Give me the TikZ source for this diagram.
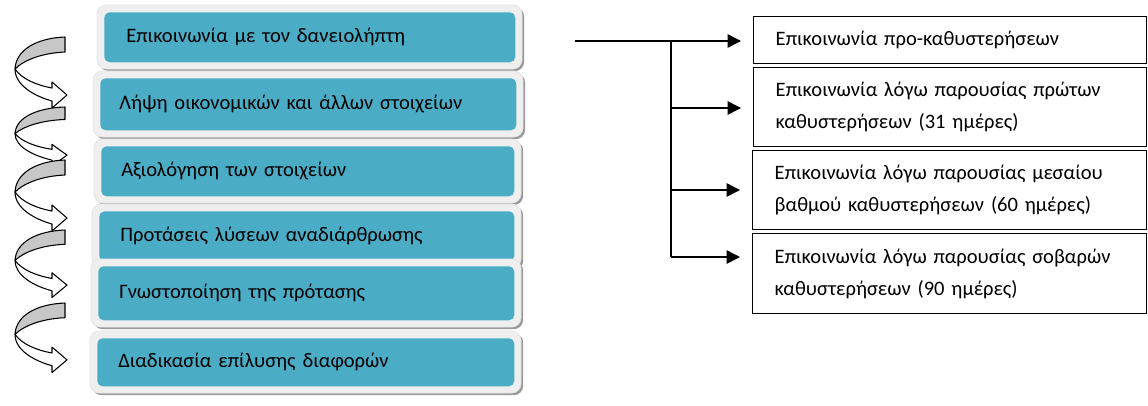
\documentclass[tikz,border=0pt]{standalone}
\usepackage{fontspec}
\setmainfont{Carlito}
\usetikzlibrary{shadows,arrows.meta}
\definecolor{teal1}{HTML}{4BACC6}
\definecolor{frameg}{HTML}{EFEFEF}
\tikzset{
  framestyle/.style={fill=frameg, draw=black!10, line width=0.6pt, rounded corners=7pt,
    drop shadow={shadow xshift=1.6pt, shadow yshift=-1.6pt, fill=black!40, opacity=1}},
  tealbox/.style={fill=teal1, rounded corners=4pt, anchor=north west, align=left,
    font=\fontsize{15.4}{18}\selectfont, inner ysep=0pt},
  rbox/.style={draw=black, line width=1.1pt, anchor=north west, align=left,
    inner xsep=16.5pt, inner ysep=0pt, font=\fontsize{15.4}{24}\selectfont},
  conn/.style={line width=1.1pt},
  arr/.style={line width=1.1pt, -{Triangle[length=10pt,width=10pt]}},
  ribbongray/.style={fill=black!22, draw=black, line width=0.8pt, line join=round},
  ribbonwhite/.style={fill=white, draw=black, line width=0.8pt, line join=round}
}
% #1 name, #2 x1, #3 y1, #4 x2, #5 y2, #6 inset, #7 text
\newcommand\leftstep[7]{%
  \path[framestyle] (#2-7,#3-7) rectangle (#4+7,#5+7);
  \node[tealbox, minimum width={(#4-#2)*0.75pt}, minimum height={(#5-#3)*0.75pt},
        inner xsep={#6*0.75pt}, text width={(#4-#2-2*#6)*0.75pt}] (#1) at (#2,#3) {#7};
}
% #1 y of top, #2 vertical scale
\newcommand\turnarrow[2]{%
  \begin{scope}[shift={(0,#1)}, yscale=#2]
    \path[ribbongray] (65,0) .. controls (38,1) and (16,12) .. (15,32)
      .. controls (24,23) and (42,16) .. (65,15) -- cycle;
    \path[ribbonwhite] (15,32) .. controls (15,48) and (34,59) .. (52,64) -- (52,71) -- (67,58)
      -- (52,45) -- (52,51) .. controls (36,48) and (22,42) .. (15,32) -- cycle;
  \end{scope}
}
\begin{document}
\begin{tikzpicture}[x=0.75pt,y=-0.75pt]
\useasboundingbox (0,0) rectangle (1148,405);
\fill[white] (0,0) rectangle (1148,405);

% left steps
\leftstep{s1}{104}{12}{515}{62}{22}{Επικοινωνία με τον δανειολήπτη}
\leftstep{s2}{100}{78}{516}{130}{19}{Λήψη οικονομικών και άλλων στοιχείων}
\leftstep{s3}{101}{146}{514}{196}{20}{Αξιολόγηση των στοιχείων}
\leftstep{s4}{99}{211}{514}{261}{21}{Προτάσεις λύσεων αναδιάρθρωσης}
\leftstep{s5}{98}{266}{514}{320}{21}{Γνωστοποίηση της πρότασης}
\leftstep{s6}{97}{338}{514}{386}{21}{Διαδικασία επίλυσης διαφορών}

% curved arrows
\turnarrow{37}{1.0}
\turnarrow{107}{0.83}
\turnarrow{160}{1.0}
\turnarrow{230}{0.95}
\turnarrow{303}{0.98}

% right boxes
\node[rbox, minimum width={(1146-753)*0.75pt}, minimum height={(63-16)*0.75pt},
      text width={(1146-753-44)*0.75pt}] (r1) at (753,16) {Επικοινωνία προ-καθυστερήσεων};
\node[rbox, minimum width={(1146-753)*0.75pt}, minimum height={(146-67)*0.75pt},
      text width={(1146-753-44)*0.75pt}] (r2) at (753,67) {Επικοινωνία λόγω παρουσίας πρώτων\\καθυστερήσεων (31 ημέρες)};
\node[rbox, minimum width={(1146-752)*0.75pt}, minimum height={(229-150)*0.75pt},
      text width={(1146-752-44)*0.75pt}] (r3) at (752,150) {Επικοινωνία λόγω παρουσίας μεσαίου\\βαθμού καθυστερήσεων (60 ημέρες)};
\node[rbox, minimum width={(1146-752)*0.75pt}, minimum height={(313-233)*0.75pt},
      text width={(1146-752-44)*0.75pt}] (r4) at (752,233) {Επικοινωνία λόγω παρουσίας σοβαρών\\καθυστερήσεων (90 ημέρες)};

% connectors
\coordinate (start) at (575,41);
\coordinate (j1) at (671,41);
\coordinate (j2) at (671,108);
\coordinate (j3) at (671,190);
\coordinate (j4) at (671,257);
\coordinate (t1) at (r1.west |- j1);
\coordinate (t2) at (r2.west |- j2);
\coordinate (t3) at (r3.west |- j3);
\coordinate (t4) at (r4.west |- j4);
\draw[conn] (start) -- (j1);
\draw[conn] (j1) -- (j4);
\draw[arr, shorten >=9pt] (j1) -- (t1);
\draw[arr, shorten >=9pt] (j2) -- (t2);
\draw[arr, shorten >=9pt] (j3) -- (t3);
\draw[arr, shorten >=9pt] (j4) -- (t4);
\end{tikzpicture}
\end{document}
